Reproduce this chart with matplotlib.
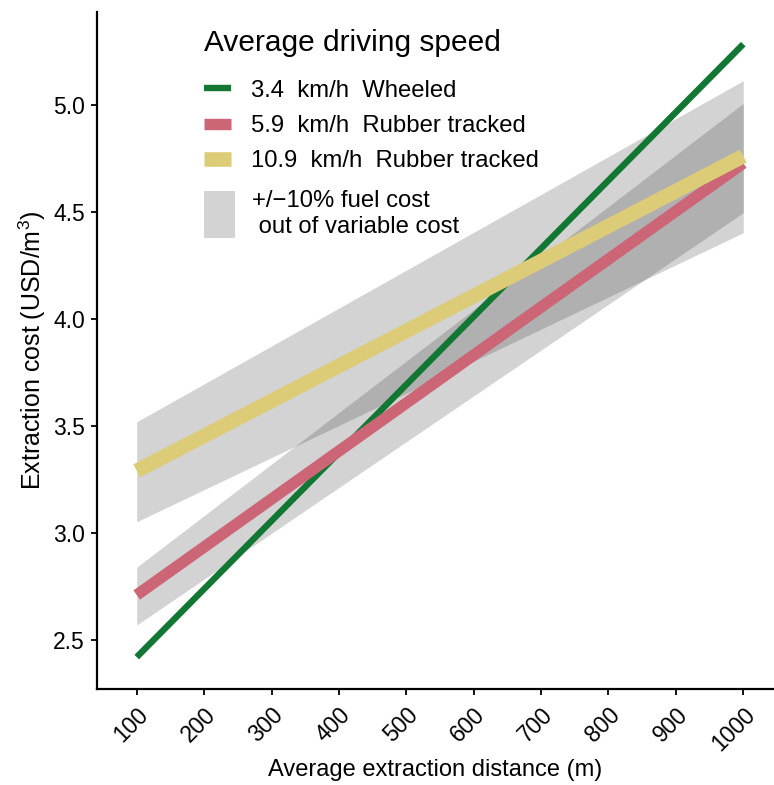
import matplotlib
matplotlib.use("Agg")
import matplotlib.pyplot as plt
from matplotlib.lines import Line2D
from matplotlib.patches import Patch, Rectangle
from matplotlib.legend_handler import HandlerBase

plt.rcParams['font.family'] = ['Liberation Sans', 'DejaVu Sans']
plt.rcParams['mathtext.fontset'] = 'custom'
plt.rcParams['mathtext.rm'] = 'Liberation Sans'
plt.rcParams['mathtext.it'] = 'Liberation Sans:italic'

# ---- data ----
distance = [100, 1000]
wheeled_34 = [2.42, 5.283]
rubber_59 = [2.71, 4.727]
rubber_109 = [3.29, 4.76]
band_59_lo = [2.57, 4.496]
band_59_hi = [2.84, 5.006]
band_109_lo = [3.052, 4.402]
band_109_hi = [3.519, 5.112]

labels = ["3.4  km/h  Wheeled", "5.9  km/h  Rubber tracked",
          "10.9  km/h  Rubber tracked"]
band_label = "+/\u221210% fuel cost\n out of variable cost"
legend_title = "Average driving speed"
x_ticks = [100, 200, 300, 400, 500, 600, 700, 800, 900, 1000]
y_ticks = [2.5, 3.0, 3.5, 4.0, 4.5, 5.0]

c_green = "#117733"
c_rose = "#CC6677"
c_sand = "#DDCC77"
band_color = "#282828"
band_alpha = 0.205

fig = plt.figure(figsize=(7.74, 7.85), dpi=100)
ax = fig.add_axes([0.125, 0.1223, 0.875, 0.8624])

ax.fill_between(distance, band_109_lo, band_109_hi, color=band_color,
                alpha=band_alpha, linewidth=0)
ax.fill_between(distance, band_59_lo, band_59_hi, color=band_color,
                alpha=band_alpha, linewidth=0)

ax.plot(distance, wheeled_34, color=c_green, lw=4.6, solid_capstyle='butt')
ax.plot(distance, rubber_59, color=c_rose, lw=8.2, solid_capstyle='butt')
ax.plot(distance, rubber_109, color=c_sand, lw=10.5, solid_capstyle='butt')

ax.set_xlim(40.7, 1045.6)
ax.set_ylim(2.271, 5.433)
ax.set_xticks(x_ticks)
ax.set_yticks(y_ticks)
ax.set_yticklabels([f"{v:.1f}" for v in y_ticks])
ax.set_xticklabels([str(v) for v in x_ticks], rotation=45, ha='right',
                   va='top', rotation_mode='anchor')

for s in ['top', 'right']:
    ax.spines[s].set_visible(False)
for s in ['left', 'bottom']:
    ax.spines[s].set_linewidth(1.6)
    ax.spines[s].set_color('black')
ax.tick_params(direction='out', length=4.5, width=1.3, colors='black',
               labelsize=16.5, pad=4)
ax.tick_params(axis='x', pad=6)

ax.set_xlabel("Average extraction distance (m)", fontsize=17, labelpad=2)
ax.set_ylabel("Extraction cost (USD/m$^{3}$)", fontsize=18, labelpad=4)


class TallPatchHandler(HandlerBase):
    def create_artists(self, legend, orig_handle, xdescent, ydescent,
                       width, height, fontsize, trans):
        w = width * 1.2
        h = height * 2.8
        r = Rectangle((-xdescent - width * 0.07, -ydescent - (h - height) / 2),
                      w, h, facecolor=band_color, alpha=band_alpha,
                      edgecolor='none', transform=trans)
        return [r]


line_handles = [Line2D([], [], color=c_green, lw=4.6, solid_capstyle='butt'),
                Line2D([], [], color=c_rose, lw=8.2, solid_capstyle='butt'),
                Line2D([], [], color=c_sand, lw=10.5, solid_capstyle='butt')]
leg1 = ax.legend(line_handles, labels, title=legend_title,
                 loc='upper left', bbox_to_anchor=(0.127, 1.006),
                 frameon=False, fontsize=17.2, title_fontsize=21.5,
                 handlelength=1.1, handletextpad=0.85, labelspacing=0.56,
                 alignment='left')
leg1._legend_box.sep = 16
ax.add_artist(leg1)

leg2 = ax.legend([Patch(facecolor=band_color, alpha=band_alpha)], [band_label],
                 loc='upper left', bbox_to_anchor=(0.143, 0.754),
                 frameon=False, fontsize=17.2, borderpad=0,
                 handlelength=1.1, handletextpad=0.85,
                 handler_map={Patch: TallPatchHandler()})

fig.savefig("out.png", dpi=100)
